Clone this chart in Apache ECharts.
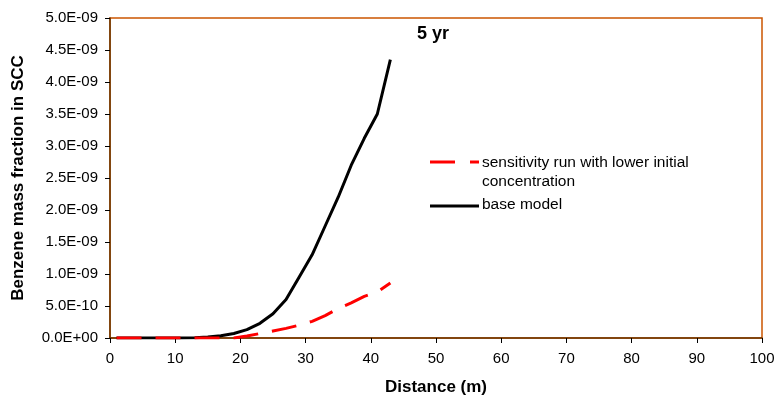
<!DOCTYPE html>
<html>
<head>
<meta charset="utf-8">
<script src="https://cdn.jsdelivr.net/npm/echarts@6/dist/echarts.min.js"></script>
<style>html,body{margin:0;padding:0;background:#fff}#c{width:776px;height:400px}</style>
</head>
<body>
<div id="c"></div>
<script>
var distance = [1,3,5,7,9,11,13,15,17,19,21,23,25,27,29,31,33,35,37,39,41,43];
var baseModel = [0,0,0,0,0,0,0.005e-9,0.015e-9,0.035e-9,0.07e-9,0.13e-9,0.23e-9,0.38e-9,0.6e-9,0.95e-9,1.3e-9,1.75e-9,2.2e-9,2.7e-9,3.12e-9,3.5e-9,4.35e-9];
var sensitivity = [0,0,0,0,0,0,0,0,0,0,0.03e-9,0.07e-9,0.11e-9,0.15e-9,0.2e-9,0.26e-9,0.35e-9,0.46e-9,0.55e-9,0.65e-9,0.72e-9,0.86e-9];
var seriesNames = ['sensitivity run with lower initial concentration', 'base model'];

function pairs(xs, ys){ return xs.map(function(x,i){return [x, ys[i]];}); }
function fmtY(v){
  if (v === 0) return '0.0E+00';
  var e = Math.floor(Math.log10(Math.abs(v)) + 1e-9);
  var m = v / Math.pow(10, e);
  var es = (e < 0 ? '-' : '+') + (Math.abs(e) < 10 ? '0' : '') + Math.abs(e);
  return m.toFixed(1) + 'E' + es;
}
var FONT = '"Liberation Sans", Arial, sans-serif';
var chart = echarts.init(document.getElementById('c'), null, {renderer:'canvas'});
chart.setOption({
  animation: false,
  backgroundColor: '#fff',
  grid: {left:110, right:14, top:18, bottom:62, show:true, borderColor:'#cc5500', borderWidth:1.5, backgroundColor:'#fff', containLabel:false, outerBoundsMode:'none'},
  xAxis: {
    type:'value', min:0, max:100, interval:10,
    name:'Distance (m)', nameLocation:'middle', nameGap:41,
    nameTextStyle:{fontFamily:FONT, fontSize:17, fontWeight:'bold', color:'#000'},
    axisLine:{show:true, lineStyle:{color:'#663300', width:1.5}},
    axisTick:{show:true, inside:false, length:5, lineStyle:{color:'#000'}},
    axisLabel:{fontFamily:FONT, fontSize:15, color:'#000', margin:13},
    splitLine:{show:false}
  },
  yAxis: {
    type:'value', min:0, max:5e-9, interval:5e-10,
    name:'Benzene mass fraction in SCC', nameLocation:'middle', nameGap:83,
    nameTextStyle:{fontFamily:FONT, fontSize:17, fontWeight:'bold', color:'#000'},
    axisLine:{show:true, lineStyle:{color:'#663300', width:1.5}},
    axisTick:{show:true, inside:false, length:5, lineStyle:{color:'#000'}},
    axisLabel:{fontFamily:FONT, fontSize:15, color:'#000', margin:12, formatter:fmtY},
    splitLine:{show:false}
  },
  series: [
    {name:seriesNames[0], type:'line', data:pairs(distance, sensitivity), showSymbol:false, symbol:'none', z:3,
     lineStyle:{color:'#ff0000', width:3, type:[25,14]}},
    {name:seriesNames[1], type:'line', data:pairs(distance, baseModel), showSymbol:false, symbol:'none', z:2,
     lineStyle:{color:'#000', width:3}}
  ],
  graphic: [
    {type:'text', x:417, y:34, style:{text:'5 yr', font:'bold 18px '+FONT, fill:'#000', textVerticalAlign:'middle', verticalAlign:'middle'}},
    {type:'line', shape:{x1:430, y1:162, x2:455, y2:162}, style:{stroke:'#ff0000', lineWidth:3}},
    {type:'line', shape:{x1:470, y1:162, x2:479, y2:162}, style:{stroke:'#ff0000', lineWidth:3}},
    {type:'text', x:482, y:163, style:{text:'sensitivity run with lower initial', font:'15.5px '+FONT, fill:'#000', textVerticalAlign:'middle', verticalAlign:'middle'}},
    {type:'text', x:482, y:182, style:{text:'concentration', font:'15.5px '+FONT, fill:'#000', textVerticalAlign:'middle', verticalAlign:'middle'}},
    {type:'line', shape:{x1:430, y1:206, x2:479, y2:206}, style:{stroke:'#000', lineWidth:3}},
    {type:'text', x:482, y:205, style:{text:'base model', font:'15.5px '+FONT, fill:'#000', textVerticalAlign:'middle', verticalAlign:'middle'}}
  ]
});
</script>
</body>
</html>
